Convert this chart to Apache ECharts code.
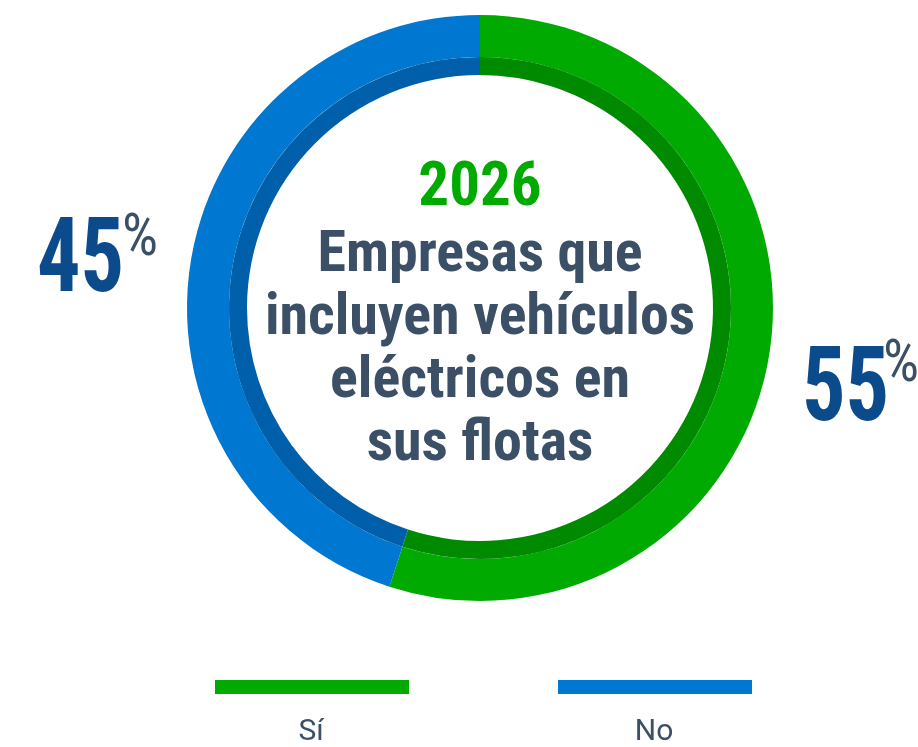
<!DOCTYPE html>
<html>
<head>
<meta charset="utf-8">
<script src="https://cdn.jsdelivr.net/npm/echarts@6/dist/echarts.min.js"></script>
<style>
  html, body { margin: 0; padding: 0; background: #fff; }
  #chart { width: 918px; height: 747px; }
</style>
</head>
<body>
<div id="chart"></div>
<script>
// datos
const categories = ['Sí', 'No'];
const values = [55, 45];
const colors = ['#00aa00', '#0077d1'];
const darkColors = ['#008a00', '#005faa'];
const yearText = '2026';
const titleLines = ['Empresas que', 'incluyen vehículos', 'eléctricos en', 'sus flotas'];

const narrow = "'Roboto Condensed', 'Liberation Sans Narrow', 'DejaVu Sans Condensed', sans-serif";
const slate = '#3b4f66';
const numBlue = '#0b4a8b';

const chart = echarts.init(document.getElementById('chart'));

const outerData = categories.map((c, i) => ({ name: c, value: values[i], itemStyle: { color: colors[i] } }));
const innerData = categories.map((c, i) => ({ name: c, value: values[i], itemStyle: { color: darkColors[i] } }));

// posiciones de los porcentajes
const pctPos = [
  { x: 802, y: 394, px: 883, py: 366 },
  { x: 37, y: 265, px: 122, py: 240 }
];
const legendX = [311, 654];

const graphics = [];
// texto central
graphics.push({
  type: 'text',
  style: { text: yearText, x: 480, y: 190, align: 'center', verticalAlign: 'middle',
    fill: colors[0], font: 'bold 61px ' + narrow }
});
titleLines.forEach((t, i) => {
  graphics.push({
    type: 'text',
    style: { text: t, x: 480, y: 256 + i * 63, align: 'center', verticalAlign: 'middle',
      fill: slate, font: 'bold 58px ' + narrow }
  });
});
values.forEach((v, i) => {
  graphics.push({
    type: 'text',
    x: pctPos[i].x, y: pctPos[i].y, scaleX: 0.83,
    style: { text: String(v), x: 0, y: 0, align: 'left', verticalAlign: 'middle',
      fill: numBlue, font: 'bold 104px ' + narrow }
  });
  graphics.push({
    type: 'text',
    x: pctPos[i].px, y: pctPos[i].py, scaleX: 0.95,
    style: { text: '%', x: 0, y: 0, align: 'left', verticalAlign: 'middle',
      fill: slate, font: '60px ' + narrow }
  });
});
categories.forEach((c, i) => {
  graphics.push({
    type: 'text',
    style: { text: c, x: legendX[i], y: 732, align: 'center', verticalAlign: 'middle',
      fill: slate, font: '30px Roboto, sans-serif' }
  });
});

const option = {
  animation: false,
  legend: {
    data: categories,
    left: 215,
    top: 680,
    padding: 0,
    icon: 'rect',
    itemWidth: 194,
    itemHeight: 14,
    itemGap: 149,
    formatter: () => '',
    textStyle: { fontSize: 1 },
    selectedMode: false
  },
  series: [
    {
      type: 'pie',
      center: [480, 308],
      radius: [251, 293],
      startAngle: 90,
      clockwise: true,
      silent: true,
      label: { show: false },
      labelLine: { show: false },
      data: outerData
    },
    {
      type: 'pie',
      center: [480, 308],
      radius: [233, 251],
      startAngle: 90,
      clockwise: true,
      silent: true,
      label: { show: false },
      labelLine: { show: false },
      data: innerData
    }
  ],
  graphic: graphics
};

chart.setOption(option);
</script>
</body>
</html>
